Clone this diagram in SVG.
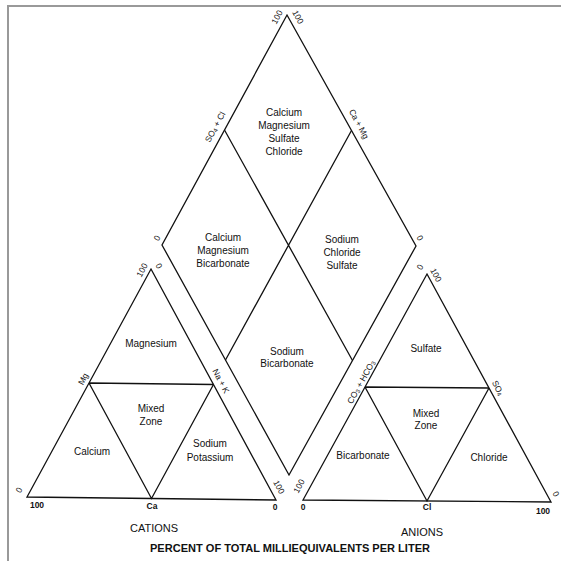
<svg xmlns="http://www.w3.org/2000/svg" width="561" height="561" viewBox="0 0 561 561">
<style>
.ln{fill:none;stroke:#111;stroke-width:1.3;stroke-linejoin:miter}
.fr{fill:none;stroke:#999;stroke-width:2}
text{font-family:"Liberation Sans",Arial,sans-serif;fill:#111;text-anchor:middle;dominant-baseline:central}
.lb{font-size:10px}
.sm{font-size:8.5px}
.bt{font-size:8.5px;font-weight:bold}
.cap{font-size:11px}
.ttl{font-size:10px;font-weight:bold}
</style>
<rect width="561" height="561" fill="#fff"/>
<path class="fr" d="M8,561 V6 H561"/>
<g id="connectors">
<path class="ln" d="M287,15 L416,246 L289,475 L162,245 Z"/>
<path class="ln" d="M224.5,130 L352.5,360.5 M351.5,130.5 L225.5,360"/>
<path class="ln" d="M151,269 L276,500 L27,497 Z"/>
<path class="ln" d="M89,383 L213.5,384.5 M89,383 L151.5,498.5 L213.5,384.5"/>
<path class="ln" d="M427,274 L551,502 L303,500 Z"/>
<path class="ln" d="M365,387 L489,388 M365,387 L427,501 L489,388"/>
</g>
<g id="diamond">
<text class="lb" x="284" y="112">Calcium</text>
<text class="lb" x="284" y="125">Magnesium</text>
<text class="lb" x="284" y="138">Sulfate</text>
<text class="lb" x="284" y="151">Chloride</text>
<text class="lb" x="223" y="237">Calcium</text>
<text class="lb" x="223" y="250">Magnesium</text>
<text class="lb" x="223" y="263">Bicarbonate</text>
<text class="lb" x="342" y="239">Sodium</text>
<text class="lb" x="342" y="252">Chloride</text>
<text class="lb" x="342" y="265">Sulfate</text>
<text class="lb" x="287" y="351">Sodium</text>
<text class="lb" x="287" y="363">Bicarbonate</text>
<text class="sm" transform="translate(277,17) rotate(-62)">100</text>
<text class="sm" transform="translate(298,17) rotate(62)">100</text>
<text class="sm" transform="translate(215,127) rotate(-61.5)">SO<tspan font-size="6" dy="2">4</tspan><tspan dy="-2"> + Cl</tspan></text>
<text class="sm" transform="translate(359,124) rotate(61.5)">Ca + Mg</text>
<text class="sm" transform="translate(157,238) rotate(-62)">0</text>
<text class="sm" transform="translate(420,238) rotate(62)">0</text>
</g>
<g id="cations">
<text class="lb" x="151" y="343">Magnesium</text>
<text class="lb" x="151" y="408">Mixed</text>
<text class="lb" x="151" y="421">Zone</text>
<text class="lb" x="92" y="451">Calcium</text>
<text class="lb" x="210" y="443">Sodium</text>
<text class="lb" x="210" y="457">Potassium</text>
<text class="sm" transform="translate(142,270) rotate(-62)">100</text>
<text class="sm" transform="translate(159,266) rotate(62)">0</text>
<text class="sm" transform="translate(83,379) rotate(-62)">Mg</text>
<text class="sm" transform="translate(221,381) rotate(62)">Na + K</text>
<text class="sm" transform="translate(19,490) rotate(-62)">0</text>
<text class="bt" x="37" y="505">100</text>
<text class="bt" x="152" y="506">Ca</text>
<text class="bt" x="275" y="507">0</text>
<text class="sm" transform="translate(279,487) rotate(62)">100</text>
<text class="cap" x="154" y="528">CATIONS</text>
</g>
<g id="anions">
<text class="lb" x="426" y="348">Sulfate</text>
<text class="lb" x="426" y="413">Mixed</text>
<text class="lb" x="426" y="425">Zone</text>
<text class="lb" x="363" y="455">Bicarbonate</text>
<text class="lb" x="489" y="457">Chloride</text>
<text class="sm" transform="translate(420,267) rotate(-62)">0</text>
<text class="sm" transform="translate(436,275) rotate(62)">100</text>
<text class="sm" transform="translate(361,382) rotate(-61)">CO<tspan font-size="6" dy="2">3</tspan><tspan dy="-2"> + HCO</tspan><tspan font-size="6" dy="2">3</tspan></text>
<text class="sm" transform="translate(498,388) rotate(62)">SO<tspan font-size="6" dy="2">4</tspan></text>
<text class="sm" transform="translate(299,486) rotate(-62)">100</text>
<text class="bt" x="303" y="507">0</text>
<text class="bt" x="427" y="507">Cl</text>
<text class="bt" x="543" y="511">100</text>
<text class="sm" transform="translate(556,494) rotate(62)">0</text>
<text class="cap" x="422" y="532">ANIONS</text>
</g>
<text class="ttl" x="290" y="548" textLength="280" lengthAdjust="spacingAndGlyphs">PERCENT OF TOTAL MILLIEQUIVALENTS PER LITER</text>
</svg>
